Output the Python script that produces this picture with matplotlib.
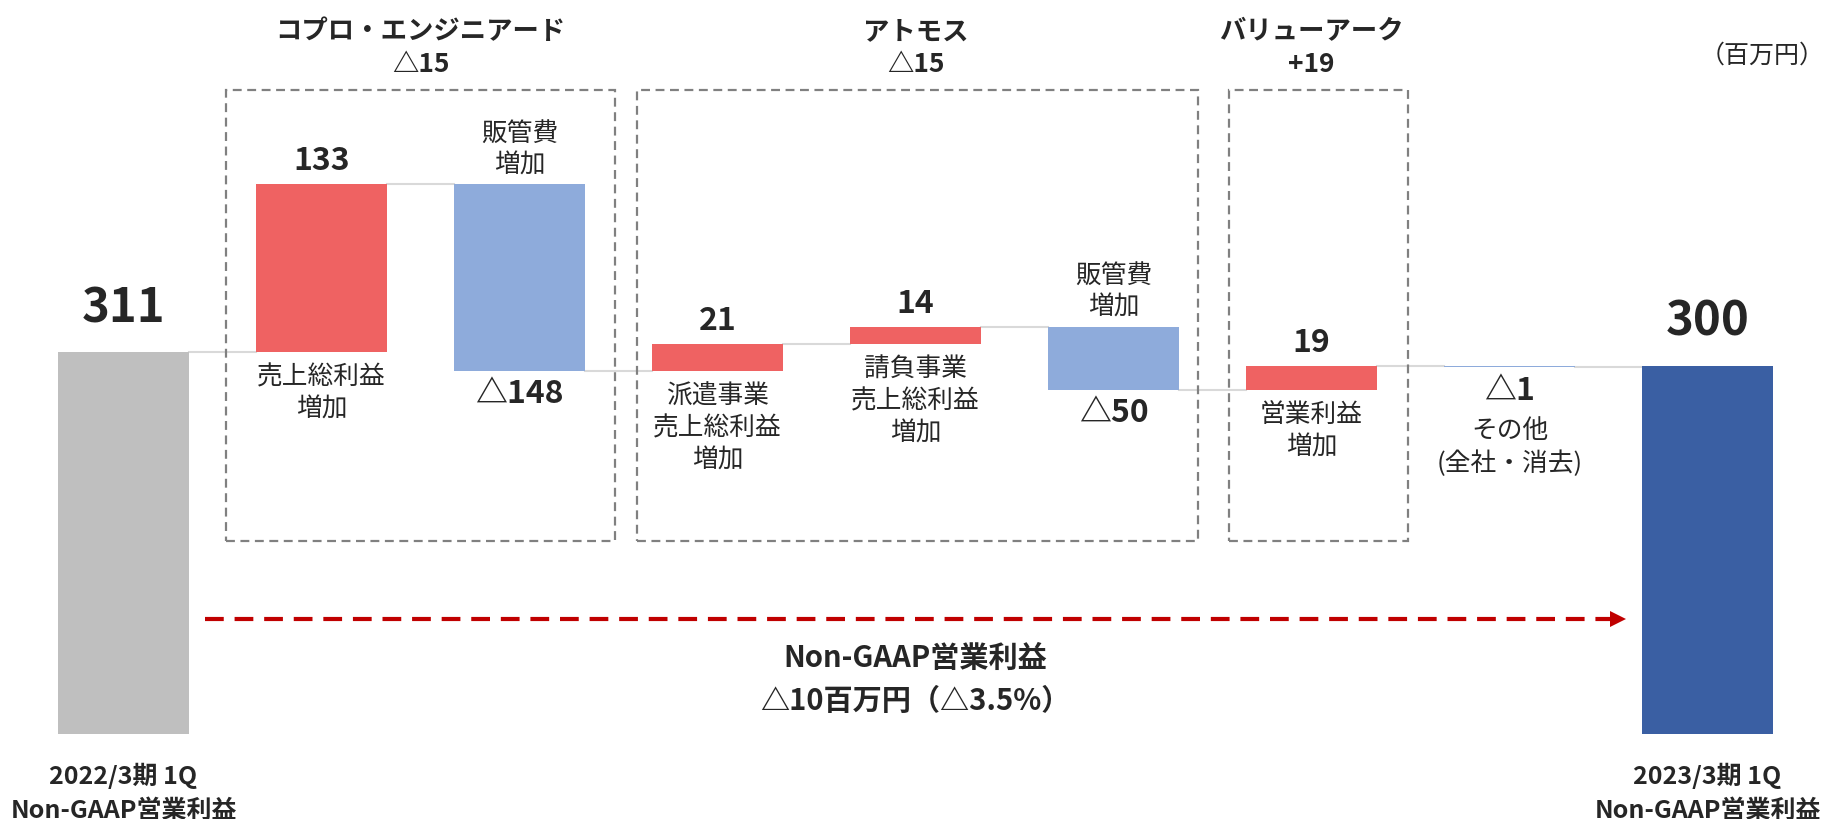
import matplotlib
matplotlib.use("Agg")
import matplotlib.pyplot as plt
from matplotlib.patches import Rectangle

plt.rcParams["font.family"] = ["Noto Sans CJK JP", "DejaVu Sans"]

# ── Daten ────────────────────────────────────────────────────────────────────
start_label = "2022/3期 1Q\nNon-GAAP営業利益"
end_label = "2023/3期 1Q\nNon-GAAP営業利益"
start_value = 311
end_value = 300

step_names = ["売上総利益\n増加", "販管費\n増加", "派遣事業\n売上総利益\n増加",
              "請負事業\n売上総利益\n増加", "販管費\n増加", "営業利益\n増加",
              "その他\n(全社・消去)"]
step_values = [133, -148, 21, 14, -50, 19, -1]

group_names = ["コプロ・エンジニアード", "アトモス", "バリューアーク"]
group_totals = ["△15", "△15", "+19"]
group_first = [1, 3, 6]
group_last = [2, 5, 6]

summary_title = "Non-GAAP営業利益"
summary_change = "△10百万円（△3.5%）"
unit_label = "（百万円）"

# ── Stil ─────────────────────────────────────────────────────────────────────
C_TEXT = "#262626"
C_START = "#BFBFBF"
C_END = "#3A5FA3"
C_UP = "#EF6262"
C_DOWN = "#8EABDB"
C_LINK = "#D9D9D9"
C_BOX = "#808080"
C_ARROW = "#C00000"
W = 0.665
CAT_FS = 18.5
CAT_LS = 1.3


def fmt(v):
    return f"△{abs(v)}" if v < 0 else f"{v}"


fig = plt.figure(figsize=(18.27, 8.19), dpi=100, facecolor="white")
ax = fig.add_axes([0, 0.1038, 1, 0.8962])
ax.set_xlim(-0.624, 8.603)
ax.set_ylim(8, 590)
ax.axis("off")

n = len(step_values)
end_x = n + 1

# ── Balken ───────────────────────────────────────────────────────────────────
ax.bar(0, start_value, width=W, color=C_START, zorder=2)
ax.bar(end_x, end_value, width=W, color=C_END, zorder=2)

levels = [start_value]
running = start_value
for i, v in enumerate(step_values, start=1):
    ax.bar(i, v, bottom=running, width=W, color=C_UP if v > 0 else C_DOWN,
           zorder=2)
    running += v
    levels.append(running)

for i, lvl in enumerate(levels):
    ax.plot([i + W / 2, i + 1 - W / 2], [lvl, lvl], color=C_LINK, lw=1.5,
            zorder=1)

# ── Beschriftungen ───────────────────────────────────────────────────────────
for x, val in ((0, start_value), (end_x, end_value)):
    ax.annotate(str(val), (x, val), xytext=(0, 31.5),
                textcoords="offset points", ha="center", va="center",
                fontsize=34, fontweight="bold", color=C_TEXT)

running = start_value
for i, (v, name) in enumerate(zip(step_values, step_names), start=1):
    top = running + max(v, 0)
    bot = running + min(v, 0)
    running += v
    if v > 0:
        ax.annotate(fmt(v), (i, top), xytext=(0, 16.5),
                    textcoords="offset points", ha="center", va="center",
                    fontsize=23, fontweight="bold", color=C_TEXT)
        ax.annotate(name, (i, bot), xytext=(0, -9),
                    textcoords="offset points", ha="center", va="top",
                    fontsize=CAT_FS, color=C_TEXT, linespacing=CAT_LS)
    elif abs(v) >= 5:
        ax.annotate(fmt(v), (i, bot), xytext=(0, -16.5),
                    textcoords="offset points", ha="center", va="center",
                    fontsize=23, fontweight="bold", color=C_TEXT)
        ax.annotate(name, (i, top), xytext=(0, 4),
                    textcoords="offset points", ha="center", va="bottom",
                    fontsize=CAT_FS, color=C_TEXT, linespacing=CAT_LS)
    else:
        ax.annotate(fmt(v), (i, bot), xytext=(0, -17),
                    textcoords="offset points", ha="center", va="center",
                    fontsize=23, fontweight="bold", color=C_TEXT)
        ax.annotate(name, (i, bot), xytext=(0, -37),
                    textcoords="offset points", ha="center", va="top",
                    fontsize=CAT_FS, color=C_TEXT, linespacing=CAT_LS)

# ── Gruppen-Rahmen ───────────────────────────────────────────────────────────
box_pad_l = [0.15, 0.075, 0.085]
box_pad_r = [0.15, 0.095, 0.155]
box_bottom, box_top = 161, 519
for k, (g, t) in enumerate(zip(group_names, group_totals)):
    x0 = group_first[k] - W / 2 - box_pad_l[k]
    x1 = group_last[k] + W / 2 + box_pad_r[k]
    ax.add_patch(Rectangle((x0, box_bottom), x1 - x0, box_top - box_bottom,
                           fill=False, edgecolor=C_BOX, lw=1.6,
                           linestyle=(0, (4, 2.5)), zorder=1))
    xc = (group_first[k] + group_last[k]) / 2
    ax.text(xc, 565, g, ha="center", va="center", fontsize=19,
            fontweight="bold", color=C_TEXT)
    ax.text(xc, 539, t, ha="center", va="center", fontsize=19,
            fontweight="bold", color=C_TEXT)

ax.text(8.275, 546, unit_label, ha="center", va="center", fontsize=18,
        color=C_TEXT)

# ── Pfeil + Zusammenfassung ──────────────────────────────────────────────────
arrow_y = 99
ax.plot([0.41, 7.52], [arrow_y, arrow_y], color=C_ARROW, lw=3,
        dashes=(4.5, 2.6), solid_capstyle="butt")
ax.plot([7.55], [arrow_y], marker=">", markersize=12, color=C_ARROW,
        markeredgewidth=0)

mid = (0 + end_x) / 2
ax.text(mid, 68, summary_title, ha="center", va="center", fontsize=21,
        fontweight="bold", color=C_TEXT)
ax.text(mid, 34, summary_change, ha="center", va="center", fontsize=21,
        fontweight="bold", color=C_TEXT)

for x, lab in ((0, start_label), (end_x, end_label)):
    ax.text(x, -38.5, lab, ha="center", va="center", fontsize=18,
            fontweight="bold", color=C_TEXT, linespacing=1.5)

fig.savefig("out.png", dpi=100, facecolor="white")
plt.close(fig)
